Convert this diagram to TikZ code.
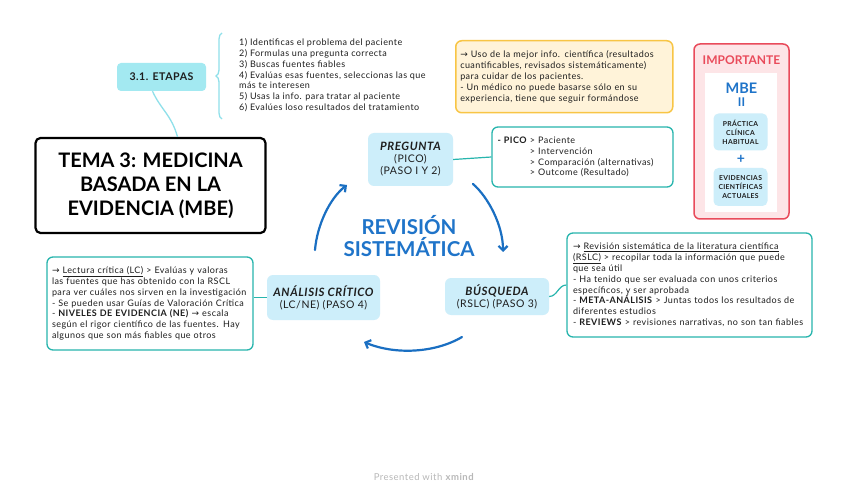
\documentclass[tikz,border=0pt]{standalone}
\usepackage{fontspec}
\setmainfont{Lato}
\newfontfamily\wfont[LetterSpace=5]{Lato}
\newfontfamily\symfont{DejaVu Sans}
\newcommand\rarr{{\symfont\char"2192}}
\usetikzlibrary{decorations.pathreplacing,arrows.meta}
\definecolor{cyanfill}{HTML}{A3E9F1}
\definecolor{cyanline}{HTML}{8FE0EA}
\definecolor{lblue}{HTML}{CDEEFA}
\definecolor{teal}{HTML}{27B5AD}
\definecolor{arrblue}{HTML}{1A6FC2}
\definecolor{txtblue}{HTML}{1F74C9}
\definecolor{yfill}{HTML}{FFF3D9}
\definecolor{yline}{HTML}{F8C545}
\definecolor{redc}{HTML}{E94B5B}
\definecolor{pinkfill}{HTML}{FDE5E7}
\definecolor{txt}{HTML}{1E1E1E}
\tikzset{
  body/.style={font=\wfont\fontsize{9}{10.8}\selectfont, align=left, text=txt},
  titlebox/.style={draw=black, line width=2.2pt, rounded corners=5pt, fill=white,
    minimum width=230pt, minimum height=95pt, align=center,
    font=\fontsize{20}{24}\selectfont\bfseries, text=black},
  etapasbox/.style={fill=cyanfill, rounded corners=4pt, minimum width=89pt, minimum height=28pt,
    font=\wfont\fontsize{10.6}{12}\selectfont\bfseries, text=txt},
  cline/.style={draw=cyanline, line width=1.3pt},
  tline/.style={draw=teal, line width=1.2pt},
  notebox/.style={body, draw=teal, line width=1.3pt, rounded corners=6pt, fill=white},
  yellowbox/.style={body, draw=yline, line width=1.5pt, rounded corners=6pt, fill=yfill},
  stepbox/.style={fill=lblue, rounded corners=6pt, align=center,
    font=\wfont\fontsize{10.5}{12}\selectfont, text=txt},
  smallbox/.style={fill=lblue, rounded corners=5pt, align=center, minimum width=54pt,
    font=\wfont\fontsize{6.8}{9}\selectfont\bfseries, text=txt},
  bluearrow/.style={draw=arrblue, line width=2.2pt, line cap=round,
    -{Straight Barb[length=4.5pt,width=9pt,line width=2.2pt]}},
}
\newcommand\steph[1]{{\fontsize{11.5}{12}\selectfont\bfseries\itshape #1}}
\begin{document}
\begin{tikzpicture}[x=1pt,y=-1pt]
\useasboundingbox[fill=white] (0,0) rectangle (848,494);

% title and etapas
\node[titlebox] (title) at (150.5,185.5) {TEMA 3: MEDICINA\\BASADA EN LA\\EVIDENCIA (MBE)};
\node[etapasbox] (etapas) at (161.5,77) {3.1. ETAPAS};
\draw[cline] ([xshift=-9pt]etapas.south) .. controls +(8,18) and +(-6,-22) .. ([xshift=27pt]title.north);
\coordinate (bt) at (222,33);
\coordinate (bb) at (222,119);
\draw[cline, decorate, decoration={brace, amplitude=6pt}] (bb) -- (bt);
\node[body, anchor=north west, inner sep=0pt] (etext) at (239,38.5)
 {1) Identificas el problema del paciente\\
  2) Formulas una pregunta correcta\\
  3) Buscas fuentes fiables\\
  4) Evalúas esas fuentes, seleccionas las que\\
  más te interesen\\
  5) Usas la info. para tratar al paciente\\
  6) Evalúes loso resultados del tratamiento};

% yellow note
\node[yellowbox, anchor=north west, text width=208pt, inner xsep=4.5pt, minimum height=72pt] (info) at (455,40)
 {\rarr{} Uso de la mejor info. científica (resultados\\
  cuantificables, revisados sistemáticamente)\\
  para cuidar de los pacientes.\\
  - Un médico no puede basarse sólo en su\\
  experiencia, tiene que seguir formándose};

% importante
\node[draw=redc, line width=1.5pt, fill=pinkfill, rounded corners=6pt, minimum width=95pt, minimum height=175pt] (imp) at (741.5,131.5) {};
\node[text=redc, font=\fontsize{12}{13}\selectfont\bfseries] (impt) at (741.5,60) {IMPORTANTE};
\node[fill=white, minimum width=72pt, minimum height=139pt, inner sep=0pt] (inner) at (741,142.5) {};
\node[text=txtblue, font=\fontsize{14.5}{16}\selectfont\bfseries] (mbe) at (741.5,88) {MBE};
\node[text=txtblue, font=\fontsize{12}{12}\selectfont\bfseries] (eq) at (741.5,102.5) {II};
\node[smallbox, minimum height=37pt] (prac) at (740.5,132) {PRÁCTICA\\CLÍNICA\\HABITUAL};
\node[text=txtblue, font=\fontsize{14}{16}\selectfont\bfseries] (plus) at (741,159) {+};
\node[smallbox, minimum height=38pt] (evid) at (740.5,187) {EVIDENCIAS\\CIENTÍFICAS\\ACTUALES};

% steps
\node[stepbox, minimum width=85pt, minimum height=53pt] (preg) at (410.5,159.5)
 {\steph{PREGUNTA}\\(PICO)\\(PASO I Y 2)};
\node[stepbox, minimum width=104pt, minimum height=37pt] (busq) at (497,296.5)
 {\steph{BÚSQUEDA}\\(RSLC) (PASO 3)};
\node[stepbox, minimum width=113pt, minimum height=45pt] (anal) at (323.5,297.5)
 {\steph{ANÁLISIS CRÍTICO}\\(LC/NE) (PASO 4)};

\node[text=txtblue, align=center, font=\fontsize{20.5}{22}\selectfont\bfseries] (rev) at (409,236.5) {REVISIÓN\\SISTEMÁTICA};

% notes
\newcommand\picoind{\hphantom{\textbf{- PICO} }}
\node[notebox, minimum width=181pt, minimum height=60pt, text width=170pt, inner xsep=5.5pt] (pico) at (582.5,157)
 {\textbf{- PICO} > Paciente\\
  \picoind> Intervención\\
  \picoind> Comparación (alternativas)\\
  \picoind> Outcome (Resultado)};
\node[notebox, minimum width=245pt, minimum height=104pt, text width=233pt, inner xsep=6pt] (rslc) at (689.5,285)
 {\rarr{} \underline{Revisión sistemática de la literatura científica}\\
  \underline{(RSLC)} > recopilar toda la información que puede\\
  que sea útil\\
  - Ha tenido que ser evaluada con unos criterios\\
  específicos, y ser aprobada\\
  - \textbf{META-ANÁLISIS} > Juntas todos los resultados de\\
  diferentes estudios\\
  - \textbf{REVIEWS} > revisiones narrativas, no son tan fiables};
\node[notebox, minimum width=206pt, minimum height=93pt, text width=196pt, inner xsep=5pt] (lc) at (150,303.5)
 {\rarr{} \underline{Lectura crítica (LC)} > Evalúas y valoras\\
  las fuentes que has obtenido con la RSCL\\
  para ver cuáles nos sirven en la investigación\\
  - Se pueden usar Guías de Valoración Crítica\\
  - \textbf{NIVELES DE EVIDENCIA (NE)} \rarr{} escala\\
  según el rigor científico de las fuentes. Hay\\
  algunos que son más fiables que otros};

% teal connectors
\draw[tline] (preg.east) -- (pico.west);
\draw[tline] (busq.east) to[out=0,in=180] (rslc.west);
\draw[tline] (anal.west) -- (anal.west -| lc.east);

% cycle arrows
\coordinate (a1s) at (315,250); \coordinate (a1e) at (347,185);
\coordinate (a2s) at (473,184); \coordinate (a2e) at (503,252);
\coordinate (a3s) at (462,337); \coordinate (a3e) at (364,342);
\draw[bluearrow] (a1s) .. controls (317,225) and (330,198) .. (a1e);
\draw[bluearrow] (a2s) .. controls (488,197) and (503,225) .. (a2e);
\draw[bluearrow] (a3s) .. controls (435,353) and (395,355) .. (a3e);

\node[text=black!28, font=\wfont\fontsize{9.5}{11}\selectfont] (xm) at (424,477) {Presented with \textbf{xmind}};
\end{tikzpicture}
\end{document}
